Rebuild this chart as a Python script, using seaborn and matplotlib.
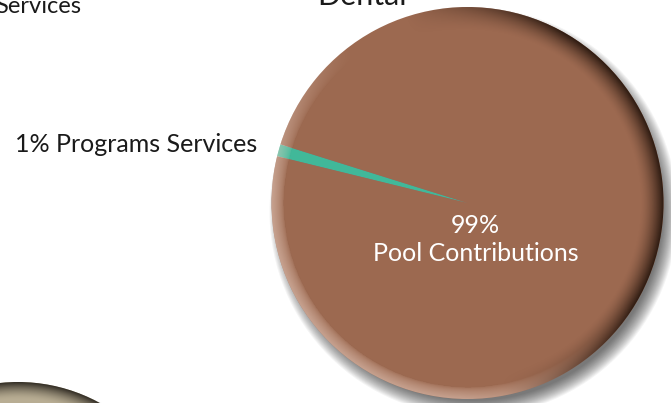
import numpy as np
import matplotlib
matplotlib.use("Agg")
import matplotlib.pyplot as plt
import seaborn as sns
from matplotlib.patches import Circle

# data
categories = ["Programs Services", "Pool Contributions"]
shares = [1, 99]
pie_title = "Dental"
left_label = "1% Programs Services"
inner_pct = "99%"
inner_name = "Pool Contributions"
cut_label = "Services"          # label from the neighbouring chart, cut at the edge
neighbour_shares = [100]       # neighbouring pie, only its rim shows

sns.set_theme(style="white")
plt.rcParams["font.family"] = ["Lato", "DejaVu Sans"]

colors = ["#41b899", "#9c6950"]

W, H = 671, 403
fig = plt.figure(figsize=(W / 100, H / 100), dpi=100)
ax = fig.add_axes([0, 0, 1, 1])

cx, cy, R = 467.5, 200.0, 196.0


def rim_overlay(ax, cx, cy, R, dark_dir, light_dir, dark_col, light_col,
                dark_w=0.12, light_w=0.06, dark_a=0.92, light_a=0.5, z=3):
    n = 500
    xs = np.linspace(-1, 1, n)
    u, v = np.meshgrid(xs, xs[::-1])
    r = np.hypot(u, v) + 1e-9
    dd = (u * dark_dir[0] + v * dark_dir[1]) / r
    ld = (u * light_dir[0] + v * light_dir[1]) / r
    t_dark = np.clip((r - (1 - dark_w)) / dark_w, 0, 1) ** 1.6
    t_light = np.clip((r - (1 - light_w)) / light_w, 0, 1) ** 0.6
    a_dark = t_dark * np.clip(dd * 1.3 + 0.1, 0, 1) ** 1.2 * dark_a
    a_light = t_light * np.clip(ld * 1.3 + 0.1, 0, 1) * light_a
    img = np.zeros((n, n, 4))
    dc = np.array(matplotlib.colors.to_rgb(dark_col))
    lc = np.array(matplotlib.colors.to_rgb(light_col))
    a = a_dark + a_light * (1 - a_dark)
    rgb = (dc[None, None, :] * a_dark[..., None]
           + lc[None, None, :] * (a_light * (1 - a_dark))[..., None]) / np.maximum(a, 1e-6)[..., None]
    img[..., :3] = rgb
    img[..., 3] = np.clip(a, 0, 1)
    im = ax.imshow(img, extent=(cx - R, cx + R, cy - R, cy + R), zorder=z,
                   interpolation="bilinear")
    clip = Circle((cx, cy), R, transform=ax.transData)
    im.set_clip_path(clip)


def drop_shadow(ax, cx, cy, R, dx=6, dy=-9, spread=8, z=1):
    for k in range(2 * spread):
        ax.add_patch(Circle((cx + dx, cy + dy), R + spread - k, color="#000000",
                            alpha=0.045, lw=0, zorder=z))


# main pie
drop_shadow(ax, cx, cy, R)
wedges, _ = ax.pie(shares, colors=colors, startangle=162.6, counterclock=True,
                   center=(cx, cy), radius=R,
                   wedgeprops=dict(linewidth=0, zorder=2))
for w in wedges:
    w.set_zorder(2)
rim_overlay(ax, cx, cy, R, dark_dir=(0.97, 0.25), light_dir=(-0.75, -0.66),
            dark_col="#22130b", light_col="#f0d8cc")

# neighbouring pie, bottom-left corner
ncx, ncy, nR = 18.0, -149.0, 170.0
drop_shadow(ax, ncx, ncy, nR, spread=6)
nw, _ = ax.pie(neighbour_shares, colors=["#b8ad93"], center=(ncx, ncy), radius=nR,
               wedgeprops=dict(linewidth=0))
for w in nw:
    w.set_zorder(2)
rim_overlay(ax, ncx, ncy, nR, dark_dir=(0.3, 0.95), light_dir=(-0.7, -0.7),
            dark_col="#2f2a22", light_col="#ffffff", dark_w=0.1, dark_a=0.97)

# texts
ax.text(362, H - 5, pie_title, ha="center", va="baseline", fontsize=22,
        color="#1a1a1a", zorder=5)
ax.text(-5, H - 13, cut_label, ha="left", va="baseline", fontsize=17,
        color="#1a1a1a", zorder=5)
ax.text(15, H - 152, left_label, ha="left", va="baseline", fontsize=18,
        color="#1a1a1a", zorder=5)
ax.text(475, H - 233, inner_pct, ha="center", va="baseline", fontsize=18,
        color="white", zorder=5)
ax.text(476, H - 261, inner_name, ha="center", va="baseline", fontsize=18,
        color="white", zorder=5)

ax.set_xlim(0, W)
ax.set_ylim(0, H)
ax.set_aspect("auto")
ax.axis("off")

fig.savefig("out.png", dpi=100)
